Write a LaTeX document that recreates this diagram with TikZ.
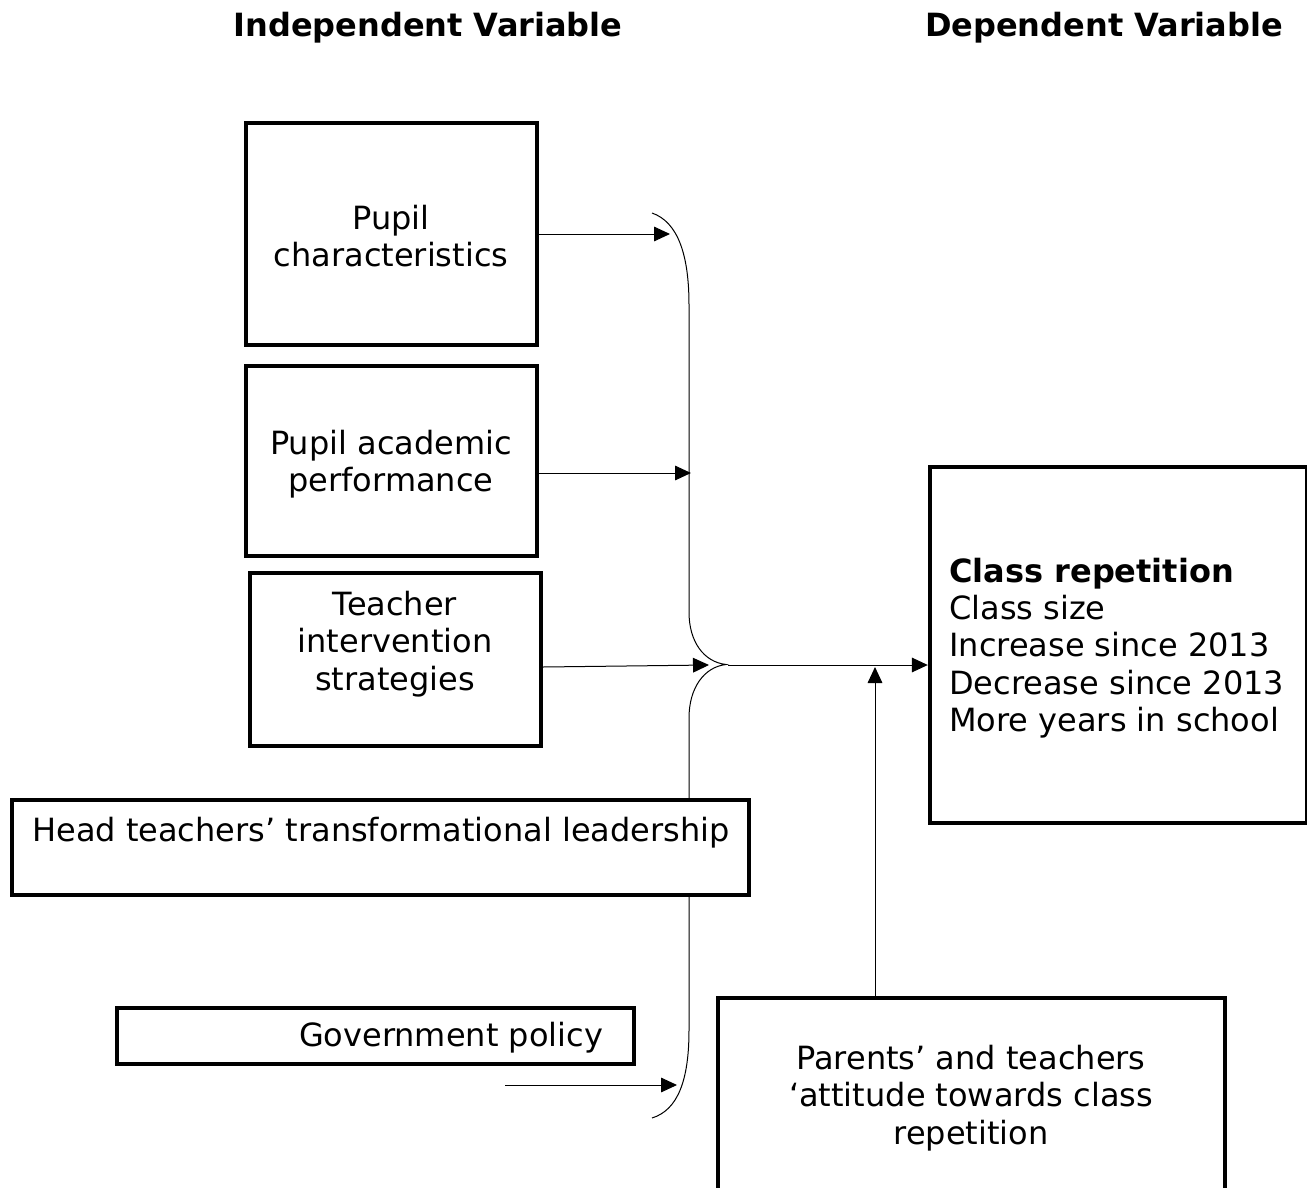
\documentclass[tikz,border=0pt]{standalone}
\usepackage{fontspec}
\setmainfont{DejaVu Sans}
\usetikzlibrary{arrows.meta,fit}
\begin{document}
\begin{tikzpicture}[x=0.75pt,y=-0.75pt,
  box/.style={draw, line width=3.3pt, inner sep=0pt, fill=white},
  txt/.style={inner sep=0pt, font=\fontsize{24}{27.9}\selectfont, align=center},
  conn/.style={line width=0.75pt, -{Triangle[length=12pt,width=11pt]}},
  brace/.style={line width=0.75pt}]
\useasboundingbox (0,0) rectangle (1307,1188);

% titles
\node[txt, font=\fontsize{24}{27.9}\selectfont\bfseries] (t1) at (428,28) {Independent Variable};
\node[txt, font=\fontsize{24}{27.9}\selectfont\bfseries] (t2) at (1104,28) {Dependent Variable};

% brace
\draw[brace] (652,213) .. controls (678,222) and (689,255) .. (689,305)
  -- (689,612) .. controls (689,642) and (704,662) .. (726,664.5)
  .. controls (704,667) and (689,688) .. (689,718)
  -- (689,1030) .. controls (689,1080) and (678,1110) .. (652,1118);

% boxes
\node[box, fit={(246,123) (537,345)}] (pc) {};
\node[box, fit={(246,366) (537,556)}] (pap) {};
\node[box, fit={(250,573) (541,746)}] (tis) {};
\node[box, fit={(12,800) (749,895)}] (htl) {};
\node[box, fit={(117,1008) (634,1064)}] (gp) {};
\node[box, fit={(930,467) (1307,823)}] (cr) {};
\node[box, fit={(718,998) (1225,1200)}] (pat) {};

% texts
\node[txt] (pct) at (391,236) {Pupil\\characteristics};
\node[txt] (papt) at (391,464) {Pupil academic\\performance};
\node[txt] (tist) at (395,644) {Teacher\\intervention\\strategies};
\node[txt] (htlt) at (381,833) {Head teachers’ transformational leadership};
\node[txt] (gpt) at (451,1038) {Government policy};
\node[txt, align=left, anchor=west] (crt) at (949,648) {\textbf{Class repetition}\\Class size\\Increase since 2013\\Decrease since 2013\\More years in school};
\node[txt] (patt) at (971,1098) {Parents’ and teachers\\‘attitude towards class\\repetition};

% coordinates
\coordinate (e1) at (670,234);
\coordinate (e2) at (691,473);
\coordinate (s3) at (541,667);
\coordinate (e3) at (709,665);
\coordinate (s4) at (505,1085);
\coordinate (e4) at (677,1085);
\coordinate (tip) at (728,665);
\coordinate (up) at (875,667);

% connectors
\draw[conn] (pc.east |- e1) -- (e1);
\draw[conn] (pap.east |- e2) -- (e2);
\draw[conn] (tis.east |- s3) -- (e3);
\draw[conn] (s4) -- (e4);
\draw[conn] (tip) -- (tip -| cr.west);
\draw[conn] (pat.north -| up) -- (up);
\end{tikzpicture}
\end{document}
